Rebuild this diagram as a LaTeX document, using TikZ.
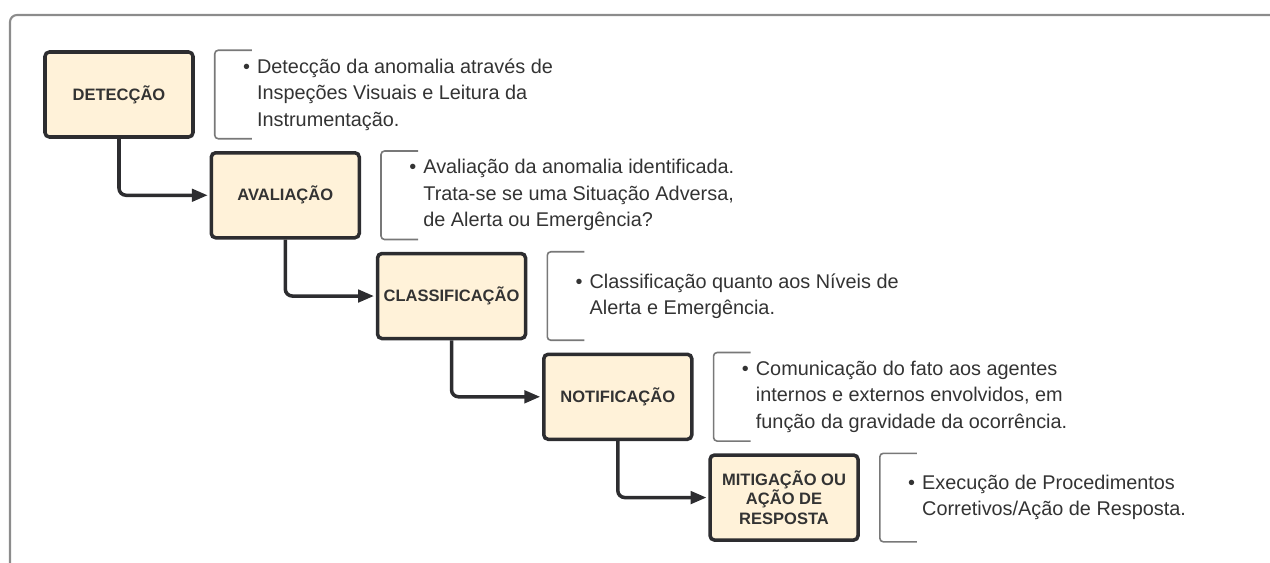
\documentclass[tikz,border=0pt]{standalone}
\usepackage{fontspec}
\setmainfont{Liberation Sans}
\usepackage{xcolor}
\usepackage{tikz}
\usetikzlibrary{arrows.meta, positioning}
\definecolor{etapafill}{RGB}{255,242,217}
\definecolor{etapadraw}{RGB}{45,45,48}
\definecolor{textgray}{RGB}{51,51,51}
\definecolor{colchetegray}{RGB}{120,120,120}
\definecolor{molduragray}{RGB}{140,140,140}

\begin{document}
\begin{tikzpicture}[
    node distance=0.245cm and 0.295cm,
    etapa/.style={rectangle, draw=etapadraw, line width=2pt, fill=etapafill, rounded corners=2.5pt, minimum width=2.96cm, minimum height=1.7cm, align=center, inner sep=0pt, font=\fontsize{9.4}{11.2}\selectfont\bfseries, text=textgray},
    desc/.style={inner sep=0pt, align=left, font=\fontsize{11.3}{15.1}\selectfont, text=textgray},
    seta/.style={-{Triangle[length=9pt,width=7pt]}, line width=2pt, draw=etapadraw, rounded corners=4pt, shorten >=1pt},
    colchete/.style={draw=colchetegray, line width=0.9pt, rounded corners=2pt}
]
\useasboundingbox (0,0) rectangle (25.4,-11.26);

% Moldura
\draw[molduragray, line width=1.2pt, rounded corners=4pt] (0.2,-11.4) -- (0.2,-0.3) -- (25.6,-0.3);

% Etapas
\node[etapa] (det) at (2.38,-1.89) {DETECÇÃO};
\node[etapa, below right=of det] (ava) {AVALIAÇÃO};
\node[etapa, below right=of ava] (cla) {CLASSIFICAÇÃO};
\node[etapa, below right=of cla] (noti) {NOTIFICAÇÃO};
\node[etapa, below right=of noti] (miti) {MITIGAÇÃO OU\\AÇÃO DE\\RESPOSTA};

% Descricoes
\node[desc, right=1.24cm of det] (detT) {\llap{\textbullet\hspace{4pt}}Detecção da anomalia através de\\Inspeções Visuais e Leitura da\\Instrumentação.};
\node[desc, right=1.24cm of ava] (avaT) {\llap{\textbullet\hspace{4pt}}Avaliação da anomalia identificada.\\Trata-se se uma Situação Adversa,\\de Alerta ou Emergência?};
\node[desc, right=1.24cm of cla] (claT) {\llap{\textbullet\hspace{4pt}}Classificação quanto aos Níveis de\\Alerta e Emergência.};
\node[desc, right=1.24cm of noti] (notiT) {\llap{\textbullet\hspace{4pt}}Comunicação do fato aos agentes\\internos e externos envolvidos, em\\função da gravidade da ocorrência.};
\node[desc, right=1.24cm of miti] (mitiT) {\llap{\textbullet\hspace{4pt}}Execução de Procedimentos\\Corretivos/Ação de Resposta.};

% Colchetes
\foreach \n in {det,ava,cla,noti,miti}
  \draw[colchete] ([xshift=1.14cm]\n.north east) -- ([xshift=0.4cm]\n.north east) -- ([xshift=0.4cm]\n.south east) -- ([xshift=1.14cm]\n.south east);

% Setas
\draw[seta] (det.south) |- (ava.west);
\draw[seta] (ava.south) |- (cla.west);
\draw[seta] (cla.south) |- (noti.west);
\draw[seta] (noti.south) |- (miti.west);

\end{tikzpicture}
\end{document}
